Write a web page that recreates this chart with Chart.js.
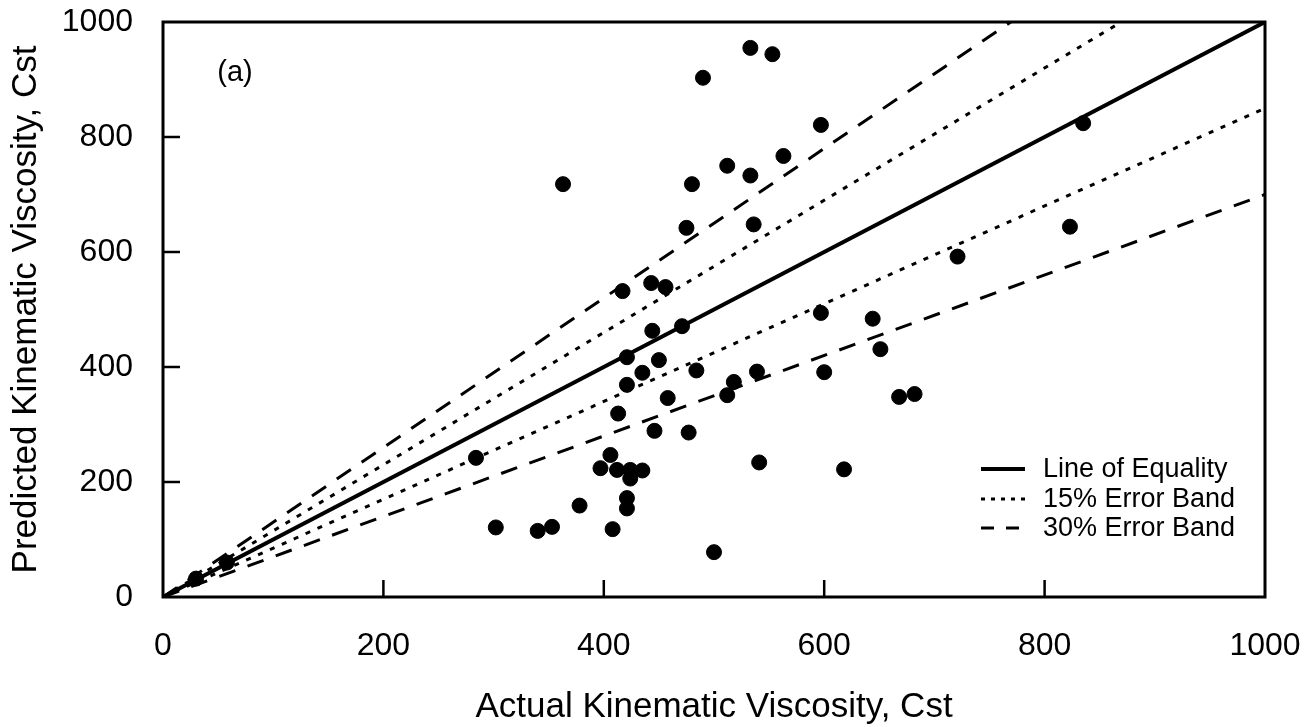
<!DOCTYPE html>
<html>
<head>
<meta charset="utf-8">
<script src="https://cdn.jsdelivr.net/npm/chart.js@4.4.1/dist/chart.umd.min.js"></script>
<style>
  html, body { margin: 0; padding: 0; background: #fff; }
  #wrap { width: 1314px; height: 727px; }
</style>
</head>
<body>
<div id="wrap"><canvas id="viscChart" width="1314" height="727"></canvas></div>
<script>
const actualVisc = [
    30, 58,
    284, 302, 340, 353, 363, 378, 397, 406, 408, 412, 413, 417, 421, 421,
    421, 421, 424, 424, 435, 435, 443, 444, 446, 450, 456, 458, 471, 475,
    477, 480, 484, 490, 500, 512, 512, 518, 533, 533, 536, 539, 541, 553,
    563, 597, 597, 600, 618, 644, 651, 668, 682, 721, 823, 835
];
const predictedVisc = [
    32, 60,
    242, 121, 115, 122, 718, 159, 224, 247, 118, 221, 319, 532, 417, 369,
    172, 154, 221, 206, 220, 390, 546, 463, 289, 412, 539, 346, 471, 642,
    286, 718, 394, 903, 78, 750, 351, 374, 955, 733, 648, 392, 234, 944,
    767, 821, 494, 391, 222, 484, 431, 348, 353, 592, 644, 824
];

// Reference lines: y = factor * x
const lineX = [0, 1000];
const equalityFactor = 1;
const band15Factors = [1.15, 0.85];
const band30Factors = [1.3, 0.7];
const axisTicks = [0, 200, 400, 600, 800, 1000];

const legendLabels = ['Line of Equality', '15% Error Band', '30% Error Band'];
const panelLabel = '(a)';

const FONT = "'Liberation Sans', Arial, Helvetica, sans-serif";
Chart.defaults.font.family = FONT;
Chart.defaults.color = '#000';

const DOT = [5, 8];
const DASH = [17, 13];

function lineData(factor) {
    return lineX.map((x) => ({ x: x, y: x * factor }));
}

function refLine(factor, width, dash) {
    return {
        type: 'scatter',
        data: lineData(factor),
        showLine: true,
        borderColor: '#000',
        borderWidth: width,
        borderDash: dash,
        pointRadius: 0,
        pointHoverRadius: 0,
    };
}

const points = actualVisc.map((x, i) => ({ x: x, y: predictedVisc[i] }));

// keep the plot box where the reference has it
function fixSize(prop, size) {
    return (scale) => {
        scale[prop] = size;
        scale.paddingTop = 0;
        scale.paddingBottom = 0;
        scale.paddingLeft = 0;
        scale.paddingRight = 0;
    };
}

// Frame, inward ticks, legend and panel label
const decorPlugin = {
    id: 'decor',
    afterDatasetsDraw(chart) {
        const { ctx, chartArea: a, scales } = chart;
        ctx.save();
        ctx.strokeStyle = '#000';
        ctx.lineWidth = 3;
        ctx.setLineDash([]);
        ctx.strokeRect(a.left, a.top, a.right - a.left, a.bottom - a.top);

        ctx.lineWidth = 2.5;
        const tickLen = 17;
        axisTicks.slice(1, -1).forEach((v) => {
            const py = scales.y.getPixelForValue(v);
            ctx.beginPath();
            ctx.moveTo(a.left, py);
            ctx.lineTo(a.left + tickLen, py);
            ctx.stroke();
            const px = scales.x.getPixelForValue(v);
            ctx.beginPath();
            ctx.moveTo(px, a.bottom);
            ctx.lineTo(px, a.bottom - tickLen);
            ctx.stroke();
        });

        // legend
        const styles = [
            { w: 4, dash: [] },
            { w: 3, dash: [4, 6] },
            { w: 3, dash: [13, 12] },
        ];
        const rowY = [469, 499, 528];
        ctx.font = '27px ' + FONT;
        ctx.fillStyle = '#000';
        ctx.textBaseline = 'middle';
        ctx.textAlign = 'left';
        legendLabels.forEach((label, i) => {
            ctx.lineWidth = styles[i].w;
            ctx.setLineDash(styles[i].dash);
            ctx.beginPath();
            ctx.moveTo(981, rowY[i]);
            ctx.lineTo(1025, rowY[i]);
            ctx.stroke();
            ctx.setLineDash([]);
            ctx.fillText(label, 1043, rowY[i] + 1);
        });

        ctx.font = '29px ' + FONT;
        ctx.textAlign = 'center';
        ctx.fillText(panelLabel, 235, 73);
        ctx.restore();
    },
};

const ctx = document.getElementById('viscChart').getContext('2d');
new Chart(ctx, {
    type: 'scatter',
    data: {
        datasets: [
            {
                data: points,
                backgroundColor: '#000',
                borderColor: '#000',
                pointRadius: 7.5,
                pointHoverRadius: 7.5,
            },
            refLine(equalityFactor, 4, []),
            refLine(band15Factors[0], 3, DOT),
            refLine(band15Factors[1], 3, DOT),
            refLine(band30Factors[0], 3, DASH),
            refLine(band30Factors[1], 3, DASH),
        ],
    },
    options: {
        responsive: false,
        animation: false,
        layout: { padding: { top: 22, right: 49, left: 0, bottom: 0 } },
        plugins: {
            legend: { display: false },
            tooltip: { enabled: false },
        },
        scales: {
            x: {
                type: 'linear',
                min: axisTicks[0],
                max: axisTicks[axisTicks.length - 1],
                afterBuildTicks: (scale) => { scale.ticks = axisTicks.map((v) => ({ value: v })); },
                afterFit: fixSize('height', 130),
                grid: { display: false },
                border: { display: false },
                ticks: { font: { size: 32 }, padding: 22, maxRotation: 0, callback: (v) => String(v) },
                title: {
                    display: true,
                    text: 'Actual Kinematic Viscosity, Cst',
                    font: { size: 35, lineHeight: 1 },
                    padding: { top: 0, bottom: 2 },
                },
            },
            y: {
                type: 'linear',
                min: axisTicks[0],
                max: axisTicks[axisTicks.length - 1],
                afterBuildTicks: (scale) => { scale.ticks = axisTicks.map((v) => ({ value: v })); },
                afterFit: fixSize('width', 163),
                grid: { display: false },
                border: { display: false },
                ticks: { font: { size: 32 }, padding: 22, callback: (v) => String(v) },
                title: {
                    display: true,
                    text: 'Predicted Kinematic Viscosity, Cst',
                    font: { size: 35, lineHeight: 1 },
                    padding: { top: 9, bottom: 0 },
                },
            },
        },
    },
    plugins: [decorPlugin],
});
</script>
</body>
</html>
